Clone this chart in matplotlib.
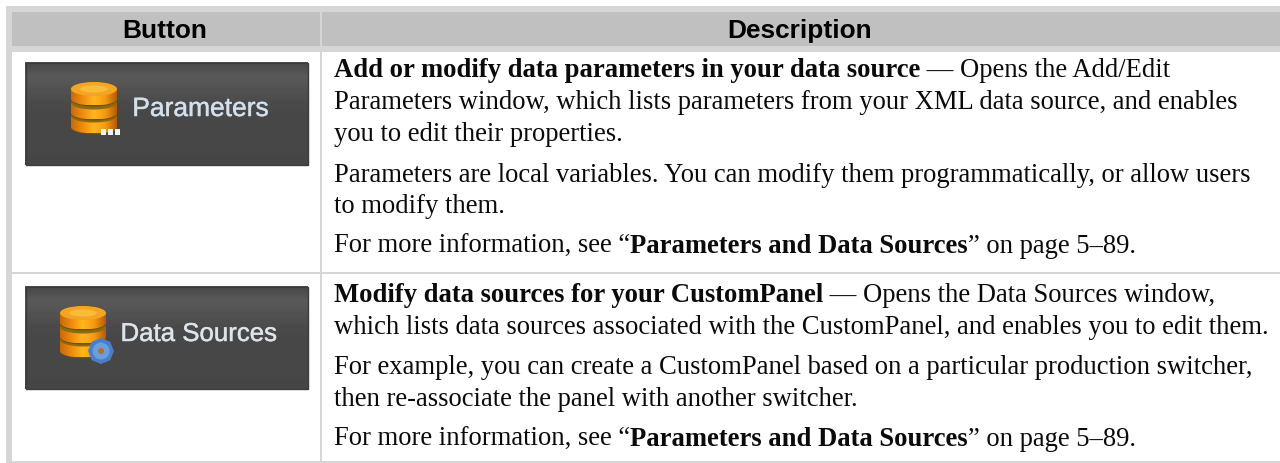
import matplotlib
matplotlib.use("Agg")
import matplotlib.pyplot as plt
import matplotlib.patheffects as pe
from matplotlib.patches import Rectangle, Ellipse, Circle, RegularPolygon
import numpy as np

headers = ["Button", "Description"]
button_labels = ["Parameters", "Data Sources"]

# each line = list of (text, bold)
row1_lines = [
    [("Add or modify data parameters in your data source", True), (" — Opens the Add/Edit", False)],
    [("Parameters window, which lists parameters from your XML data source, and enables", False)],
    [("you to edit their properties.", False)],
    [("Parameters are local variables. You can modify them programmatically, or allow users", False)],
    [("to modify them.", False)],
    [("For more information, see “", False), ("Parameters and Data Sources", True), ("” on page 5–89.", False)],
]
row2_lines = [
    [("Modify data sources for your CustomPanel", True), (" — Opens the Data Sources window,", False)],
    [("which lists data sources associated with the CustomPanel, and enables you to edit them.", False)],
    [("For example, you can create a CustomPanel based on a particular production switcher,", False)],
    [("then re-associate the panel with another switcher.", False)],
    [("For more information, see “", False), ("Parameters and Data Sources", True), ("” on page 5–89.", False)],
]
row1_y = [77, 109, 141, 182, 213, 253]
row2_y = [302, 334, 374, 406, 446]

BORDER = "#d6d6d6"
HEAD = "#c0c0c0"
TEXT_PT = 19.15

fig = plt.figure(figsize=(12.8, 4.64), dpi=100, facecolor="white")
ax = fig.add_axes([0, 0, 1, 1])
ax.set_xlim(0, 1280)
ax.set_ylim(464, 0)
ax.axis("off")


def rect(x0, y0, x1, y1, color, z=1):
    ax.add_patch(Rectangle((x0, y0), x1 - x0, y1 - y0, fc=color, ec="none", zorder=z))


# table frame
rect(6, 7, 1280, 53, BORDER)
rect(12, 13, 320, 47, HEAD, 2)
rect(322, 13, 1280, 47, HEAD, 2)
rect(6, 53, 12, 464, BORDER)
rect(320, 53, 322, 464, BORDER)
rect(12, 273, 1280, 275, BORDER)
rect(12, 462, 1280, 464, BORDER)

ax.text(165, 38, headers[0], family="Liberation Sans", weight="bold", fontsize=18.9,
        ha="center", va="baseline", color="black", zorder=5)
ax.text(800, 38, headers[1], family="Liberation Sans", weight="bold", fontsize=18.9,
        ha="center", va="baseline", color="black", zorder=5)

renderer = fig.canvas.get_renderer()


def text_width(s, weight):
    # trailing/leading spaces get lost, measure with a guard char
    t1 = ax.text(0, 0, "|" + s + "|", family="Liberation Serif", weight=weight, fontsize=TEXT_PT)
    t2 = ax.text(0, 0, "||", family="Liberation Serif", weight=weight, fontsize=TEXT_PT)
    w = t1.get_window_extent(renderer).width - t2.get_window_extent(renderer).width
    t1.remove()
    t2.remove()
    return w


def draw_lines(lines, ys):
    for segs, y in zip(lines, ys):
        x = 334
        for s, bold in segs:
            weight = "bold" if bold else "normal"
            ax.text(x, y, s, family="Liberation Serif", weight=weight, fontsize=TEXT_PT,
                    va="baseline", ha="left", color="#0a0a0a", zorder=5)
            x += text_width(s, weight)


draw_lines(row1_lines, row1_y)
draw_lines(row2_lines, row2_y)


def button(y0, y1):
    grad = np.array([[0.30], [0.35], [0.33], [0.31], [0.29], [0.28], [0.28], [0.28], [0.28], [0.28], [0.27]])
    ax.imshow(grad, cmap="gray", vmin=0, vmax=1, extent=(25, 308, y1, y0), aspect="auto",
              interpolation="bilinear", zorder=3)
    ax.add_patch(Rectangle((25.5, y0 + 0.5), 282, y1 - y0 - 1, fc="none", ec="#3c3c3c", lw=1, zorder=3.5))


orange = matplotlib.colors.LinearSegmentedColormap.from_list(
    "disc", ["#c96a08", "#f08c10", "#ffb61c", "#f59a12", "#b85c06"])


def shaded(x0, x1, y0, y1, patch, z=4):
    # horizontal orange gradient clipped to a patch
    ax.add_patch(patch)
    patch.set_visible(False)
    g = np.linspace(0, 1, 60).reshape(1, -1)
    im = ax.imshow(g, cmap=orange, extent=(x0, x1, y1, y0), aspect="auto", zorder=z)
    im.set_clip_path(patch)


def stack(x0, x1, y0):
    # three stacked discs of the database icon
    w = x1 - x0
    cx = (x0 + x1) / 2
    for top, bot, z in [(y0 + 34, y0 + 45, 4.0), (y0 + 21, y0 + 31, 4.1), (y0 + 7, y0 + 17, 4.2)]:
        ax.add_patch(Ellipse((cx, bot + 1), w, 13, fc="#6f5208", ec="none", zorder=z))
        shaded(x0, x1, top, bot + 6, Ellipse((cx, bot), w, 13), z + 0.01)
        shaded(x0, x1, top, bot, Rectangle((x0, top), w, bot - top), z + 0.01)
        ax.add_patch(Ellipse((cx, top), w, 13, fc="#8a6a12", ec="none", zorder=z + 0.02))
    ax.add_patch(Ellipse((cx, y0 + 7), w, 14, fc="#f5a524", ec="none", zorder=4.5))
    ax.add_patch(Ellipse((cx, y0 + 7), w * 0.6, 7, fc="#f9bb3a", ec="none", zorder=4.6))


button(63, 166)
button(287, 390)
stack(71, 117, 83)
stack(60, 106, 307)

# three dots
for dx in [103, 110, 117]:
    rect(dx - 2.5, 130, dx + 2.5, 135.5, "#f2f2f2", 5)

# gear
ax.add_patch(RegularPolygon((101, 352), 8, radius=13, fc="#4a7fc8", ec="none", zorder=5))
ax.add_patch(Circle((101, 352), 8.5, fc="#6a9ee0", ec="none", zorder=5))
ax.add_patch(Circle((101, 352), 3, fc="#b5702a", ec="none", zorder=6))

stroke = [pe.withStroke(linewidth=0.4, foreground="#b8cde0")]
ax.text(200.5, 110, button_labels[0], family="Liberation Sans", fontsize=19, color="#d5e0ea",
        ha="center", va="center", zorder=6, path_effects=stroke)
ax.text(199, 335, button_labels[1], family="Liberation Sans", fontsize=18.6, color="#e0e4e6",
        ha="center", va="center", zorder=6, path_effects=stroke)

ax.set_xlim(0, 1280)
ax.set_ylim(464, 0)
fig.savefig("out.png", dpi=100)
